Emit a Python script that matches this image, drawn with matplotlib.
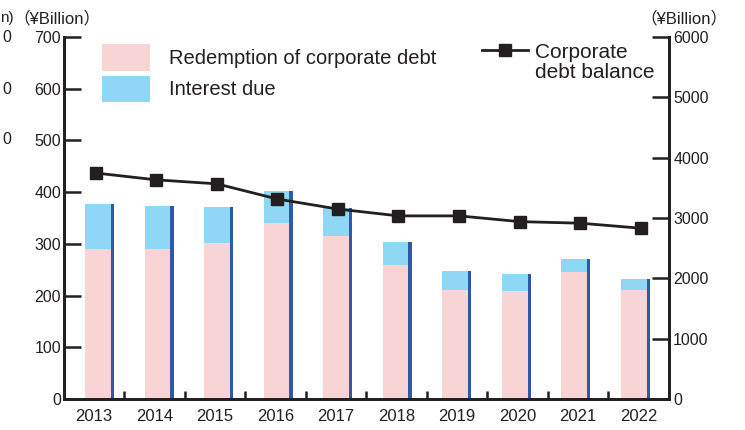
import numpy as np
import matplotlib.pyplot as plt
from matplotlib.patches import Patch
from matplotlib.lines import Line2D

plt.rcParams['font.family'] = ['Liberation Sans', 'Noto Sans CJK JP', 'DejaVu Sans']

years = ['2013', '2014', '2015', '2016', '2017', '2018', '2019', '2020', '2021', '2022']
redemption = [290, 290, 302, 340, 315, 259, 211, 209, 246, 211]
interest = [87, 83, 69, 62, 54, 45, 37, 33, 25, 21]
balance = [3745, 3632, 3566, 3314, 3148, 3035, 3035, 2940, 2914, 2831]

pink = '#f9d4d5'
lightblue = '#8ed8f5'
darkblue = '#2e59a7'
black = '#231f20'

fig = plt.figure(figsize=(7.45, 4.3), dpi=100)
ax = fig.add_axes([0.0856, 0.0721, 0.8124, 0.8419])
ax2 = ax.twinx()

x = np.arange(len(years))
total = np.array(redemption) + np.array(interest)

# bars sit on a slightly tighter grid than the category ticks
bar_left = -0.15 + x * 0.984
ax.bar(bar_left, redemption, width=0.425, align='edge', color=pink, zorder=2)
ax.bar(bar_left, interest, width=0.425, bottom=redemption, align='edge', color=lightblue, zorder=2)
ax.bar(bar_left + 0.425, total, width=0.055, align='edge', color=darkblue, zorder=2)

ax2.plot(x + 0.03, balance, color=black, lw=2, marker='s', ms=8.5, zorder=5)

ax.set_xlim(-0.5, 9.5)
ax.set_ylim(0, 700)
ax2.set_ylim(0, 6000)
ax.set_yticks(range(0, 701, 100))
ax2.set_yticks(range(0, 6001, 1000))

ax.set_xticks(x)
ax.set_xticklabels(years, fontsize=12, color=black)
ax.set_xticks(np.arange(0.5, 9.5, 1), minor=True)
ax.tick_params(axis='x', which='major', length=0, pad=7.5)
ax.tick_params(axis='x', which='minor', direction='in', length=6, width=1.8, color=black)
ax.tick_params(axis='y', direction='in', length=12, width=1.8, color=black,
               labelsize=11.5, labelcolor=black, pad=2)
ax2.tick_params(axis='y', direction='in', length=12, width=1.8, color=black,
                labelsize=11.5, labelcolor=black, pad=3)

for a in (ax, ax2):
    a.spines['top'].set_visible(False)
    for s in ('left', 'right', 'bottom'):
        a.spines[s].set_linewidth(2)
        a.spines[s].set_color(black)
ax.set_zorder(ax2.get_zorder() - 1)
ax2.patch.set_visible(False)

fig.text(0.077, 0.958, '（¥Billion）', ha='center', va='center', fontsize=12, color=black)
fig.text(0.918, 0.958, '（¥Billion）', ha='center', va='center', fontsize=12, color=black)

# remains of the neighbouring chart at the left edge
fig.text(0.0, 0.958, 'n)', ha='left', va='center', fontsize=11, color=black)
for yy in (37, 89, 140):
    fig.text(0.003, 1 - yy / 430, '0', ha='left', va='center', fontsize=11.5, color=black)

handles = [Patch(facecolor=pink), Patch(facecolor=lightblue)]
leg = fig.legend(handles, ['Redemption of corporate debt', 'Interest due'],
                 loc='upper left', bbox_to_anchor=(0.137, 0.898), frameon=False,
                 fontsize=14.5, handlelength=2.4, handleheight=1.66, handletextpad=0.9,
                 labelspacing=0.25, borderpad=0, borderaxespad=0)
for t in leg.get_texts():
    t.set_color(black)

line_h = Line2D([], [], color=black, lw=2, marker='s', ms=8.5)
leg2 = fig.legend([line_h], ['Corporate'], loc='center left',
                  bbox_to_anchor=(0.647, 1 - 52 / 430), frameon=False, fontsize=15,
                  handlelength=2.2, handletextpad=0.35, borderpad=0, borderaxespad=0)
for t in leg2.get_texts():
    t.set_color(black)
fig.text(535 / 745, 1 - 72 / 430, 'debt balance', ha='left', va='center',
         fontsize=15, color=black)

fig.savefig('out.png', dpi=100)
